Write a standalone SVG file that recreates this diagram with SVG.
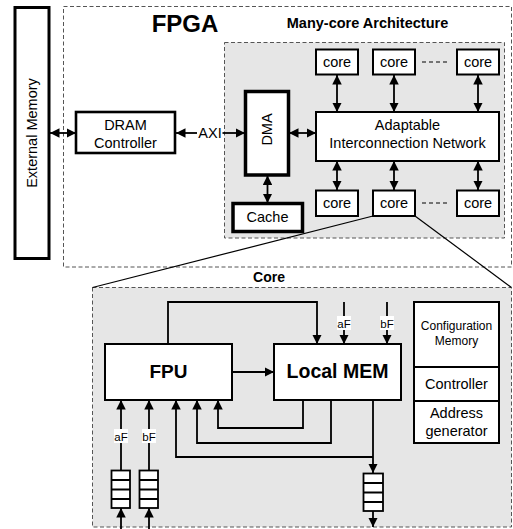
<svg xmlns="http://www.w3.org/2000/svg" width="513" height="529" viewBox="0 0 513 529">
<defs>
<marker id="ah" viewBox="0 0 10 10" refX="10" refY="5" markerWidth="9.5" markerHeight="9.5" markerUnits="userSpaceOnUse" orient="auto-start-reverse"><path d="M0,0 L10,5 L0,10 z" fill="#000"/></marker>
</defs>
<style>
text{font-family:"Liberation Sans",Arial,sans-serif;fill:#000;font-size:14.5px;text-anchor:middle}
.b{font-weight:bold}
.box{fill:#fff;stroke:#000;stroke-width:2}
.thick{fill:#fff;stroke:#000;stroke-width:3}
.dash{stroke:#555;stroke-width:1;stroke-dasharray:4,2.5}
.ln{stroke:#000;stroke-width:1.8;fill:none}
.ar{stroke:#000;stroke-width:1.8;fill:none;marker-end:url(#ah)}
.dar{stroke:#000;stroke-width:1.8;fill:none;marker-start:url(#ah);marker-end:url(#ah)}
.lbl{fill:#fff}
.sm{font-size:11.5px}
</style>
<rect width="513" height="529" fill="#fff"/>
<g id="fpga"><rect x="63.5" y="6.5" width="448" height="260.5" fill="none" class="dash"/><text class="b" x="185" y="32" style="font-size:24px">FPGA</text></g>
<g id="manycore"><rect x="224.5" y="42.5" width="280" height="195.5" fill="#e6e6e6" class="dash"/><text class="b" x="367.5" y="28">Many-core Architecture</text></g>
<g id="corebox"><rect x="92.5" y="287.5" width="419" height="239.5" fill="#e6e6e6" class="dash"/><text class="b" x="269" y="282" style="font-size:14px">Core</text></g>
<g id="zoomlines" class="ln" style="stroke-width:1.2">
<line x1="373" y1="216" x2="92.5" y2="287.5"/>
<line x1="415" y1="216" x2="511.5" y2="287.5"/>
</g>
<g id="extmem"><rect x="15" y="7.5" width="34" height="251" class="thick"/><text transform="translate(36.5,133) rotate(-90)">External Memory</text></g>
<g id="dram"><rect x="76" y="112" width="99" height="41" class="thick" style="stroke-width:2.6"/><text x="125.5" y="130">DRAM</text><text x="125.5" y="148">Controller</text></g>
<g id="dma"><rect x="245.5" y="91.5" width="43" height="83.5" class="thick" style="stroke-width:3.5"/><text transform="translate(271.5,129.5) rotate(-90)">DMA</text></g>
<g id="cache"><rect x="233" y="203.5" width="69.5" height="28" class="thick" style="stroke-width:3.5"/><text x="267.5" y="221.5">Cache</text></g>
<g id="network"><rect x="316" y="112" width="183" height="49" class="box"/><text x="407.5" y="130">Adaptable</text><text x="407.5" y="148">Interconnection Network</text></g>
<g id="core-t1"><rect x="316" y="49.5" width="42" height="25" class="box"/><text x="337" y="67">core</text></g>
<g id="core-t2"><rect x="373" y="49.5" width="42" height="25" class="box"/><text x="394" y="67">core</text></g>
<g id="core-t3"><rect x="457" y="49.5" width="42" height="25" class="box"/><text x="478" y="67">core</text></g>
<g id="core-b1"><rect x="316" y="190.5" width="42" height="25.5" class="box"/><text x="337" y="208">core</text></g>
<g id="core-b2"><rect x="373" y="190.5" width="42" height="25.5" class="box"/><text x="394" y="208">core</text></g>
<g id="core-b3"><rect x="457" y="190.5" width="42" height="25.5" class="box"/><text x="478" y="208">core</text></g>
<g id="fpu"><rect x="105" y="344" width="127" height="56" class="box"/><text class="b" x="168.5" y="378" style="font-size:19px">FPU</text></g>
<g id="localmem"><rect x="274" y="344" width="127" height="56" class="box"/><text class="b" x="337.5" y="378" style="font-size:19.5px">Local MEM</text></g>
<g id="configstack">
<rect x="414" y="302" width="85" height="141" class="box"/>
<line x1="414" y1="367" x2="499" y2="367" class="ln" style="stroke-width:2"/>
<line x1="414" y1="401" x2="499" y2="401" class="ln" style="stroke-width:2"/>
<text x="456.5" y="330" style="font-size:12px">Configuration</text><text x="456.5" y="345" style="font-size:12px">Memory</text>
<text x="456.5" y="389">Controller</text>
<text x="456.5" y="418">Address</text><text x="456.5" y="436">generator</text>
</g>
<g id="queue-a" class="box" style="stroke-width:1.8"><rect x="111.5" y="470.5" width="18.5" height="37.5"/><path d="M111.5,480 H130 M111.5,489.5 H130 M111.5,499 H130" fill="none"/></g>
<g id="queue-b" class="box" style="stroke-width:1.8"><rect x="139.5" y="470.5" width="18.5" height="37.5"/><path d="M139.5,480 H158 M139.5,489.5 H158 M139.5,499 H158" fill="none"/></g>
<g id="queue-out" class="box" style="stroke-width:1.8"><rect x="363.5" y="473.5" width="19.5" height="37.5"/><path d="M363.5,483 H383 M363.5,492.5 H383 M363.5,502 H383" fill="none"/></g>
<g id="connectors">
<line x1="50" y1="133" x2="76" y2="133" class="dar"/>
<line x1="197" y1="133" x2="176" y2="133" class="ar"/>
<line x1="222.5" y1="133" x2="245" y2="133" class="ar"/>
<line x1="289" y1="133" x2="316" y2="133" class="dar"/>
<line x1="267.5" y1="175.5" x2="267.5" y2="203" class="dar"/>
<line x1="337" y1="75" x2="337" y2="112" class="dar"/>
<line x1="394" y1="75" x2="394" y2="112" class="dar"/>
<line x1="478" y1="75" x2="478" y2="112" class="dar"/>
<line x1="337" y1="161" x2="337" y2="190" class="dar"/>
<line x1="394" y1="161" x2="394" y2="190" class="dar"/>
<line x1="478" y1="161" x2="478" y2="190" class="dar"/>
<line x1="422" y1="62" x2="449" y2="62" class="ln" style="stroke-width:1.2;stroke-dasharray:4,3"/>
<line x1="422" y1="203" x2="449" y2="203" class="ln" style="stroke-width:1.2;stroke-dasharray:4,3"/>
<line x1="232" y1="372" x2="274" y2="372" class="ar"/>
<polyline points="168,344 168,302 317,302 317,344" class="ar"/>
<line x1="344" y1="302" x2="344" y2="344" class="ar"/>
<line x1="387" y1="302" x2="387" y2="344" class="ar"/>
<line x1="121" y1="470" x2="121" y2="400" class="ar"/>
<line x1="149" y1="470" x2="149" y2="400" class="ar"/>
<polyline points="373,457 176,457 176,400" class="ar"/>
<polyline points="331,400 331,443 197,443 197,400" class="ar"/>
<polyline points="303,400 303,428 218,428 218,400" class="ar"/>
<line x1="373" y1="400" x2="373" y2="473" class="ar"/>
<line x1="373" y1="511" x2="373" y2="527" class="ar"/>
<line x1="121" y1="529" x2="121" y2="508" class="ar"/>
<line x1="149" y1="529" x2="149" y2="508" class="ar"/>
</g>
<g id="labels">
<text x="210" y="138">AXI</text>
<rect x="337" y="316" width="14" height="14" class="lbl"/><text class="sm" x="344" y="328">aF</text>
<rect x="380" y="316" width="14" height="14" class="lbl"/><text class="sm" x="387" y="328">bF</text>
<rect x="114" y="429" width="14" height="14" class="lbl"/><text class="sm" x="121" y="441">aF</text>
<rect x="142" y="429" width="14" height="14" class="lbl"/><text class="sm" x="149" y="441">bF</text>
</g>
</svg>
